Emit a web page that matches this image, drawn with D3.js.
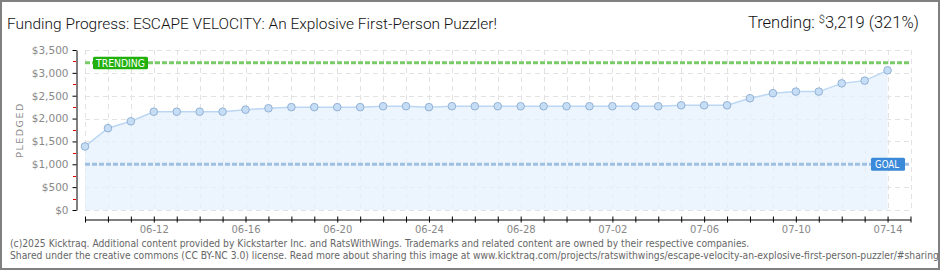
<!DOCTYPE html>
<html lang="en">
  <head>
    <meta charset="UTF-8" />
    <title>Funding Progress</title>
    <style>
      body { margin: 0; background: #fff; }
      svg { display: block; }
      .yaxis text, .xaxis text { font-family: "DejaVu Sans", sans-serif; fill: #888; }
    </style>
  </head>

  <body>
    <script src="https://cdn.jsdelivr.net/npm/d3@7"></script>

    <script>
    // data
    var days = ["06-09","06-10","06-11","06-12","06-13","06-14","06-15","06-16","06-17","06-18",
                "06-19","06-20","06-21","06-22","06-23","06-24","06-25","06-26","06-27","06-28",
                "06-29","06-30","07-01","07-02","07-03","07-04","07-05","07-06","07-07","07-08",
                "07-09","07-10","07-11","07-12","07-13","07-14"];
    var pledged = [1390,1790,1940,2150,2150,2150,2150,2195,2225,2250,
                   2250,2250,2250,2270,2270,2250,2270,2270,2270,2270,
                   2270,2270,2270,2270,2270,2270,2290,2290,2290,2445,
                   2555,2590,2590,2770,2830,3055];
    var goal = 1000;
    var trending = 3219;
    var yTicks = [0,500,1000,1500,2000,2500,3000,3500];
    var labelDays = ["06-12","06-16","06-20","06-24","06-28","07-02","07-06","07-10","07-14"];

    var width = 940;
    var height = 270;

    var parseDay = d3.timeParse("%Y-%m-%d");
    var fmtDay = d3.timeFormat("%m-%d");
    var data = days.map(function(d, i) {
      return { date: parseDay("2025-" + d), value: pledged[i] };
    });

    var svg = d3.select("body")
                .append("svg")
                .attr("width", width)
                .attr("height", height);

    svg.append("rect")
       .attr("x", 1).attr("y", 1)
       .attr("width", width - 2).attr("height", height - 2)
       .attr("fill", "#fff")
       .attr("stroke", "#808080")
       .attr("stroke-width", 2);

    var xScale = d3.scaleTime()
              .domain([data[0].date, d3.timeDay.offset(data[data.length - 1].date, 1)])
              .range([85, 910.5]);

    var yScale = d3.scaleLinear()
              .domain([0, 3500])
              .range([210, 50]);

    // grid
    var grid = svg.append("g").attr("class", "grid")
                  .attr("stroke", "#e2e2e2")
                  .attr("stroke-dasharray", "5,4");
    grid.selectAll(".vline")
        .data(xScale.ticks(d3.timeDay.every(1)))
        .enter().append("line")
        .attr("x1", function(d) { return Math.round(xScale(d)) + 0.5; })
        .attr("x2", function(d) { return Math.round(xScale(d)) + 0.5; })
        .attr("y1", 50).attr("y2", 210);
    grid.selectAll(".hline")
        .data(yTicks)
        .enter().append("line")
        .attr("x1", 85).attr("x2", 910)
        .attr("y1", function(d) { return Math.round(yScale(d)) + 0.5; })
        .attr("y2", function(d) { return Math.round(yScale(d)) + 0.5; });

    // area + line
    var area = d3.area()
      .x(function(d) { return xScale(d.date); })
      .y0(yScale(0))
      .y1(function(d) { return yScale(d.value); });
    svg.append("path")
       .datum(data)
       .attr("d", area)
       .attr("fill", "#e6f0fc")
       .attr("fill-opacity", 0.75);

    var line = d3.line()
      .x(function(d) { return xScale(d.date); })
      .y(function(d) { return yScale(d.value); });
    svg.append("path")
       .datum(data)
       .attr("d", line)
       .attr("fill", "none")
       .attr("stroke", "#bcd7f3")
       .attr("stroke-width", 1.5);

    // trending and goal lines
    svg.append("line")
       .attr("x1", 85).attr("x2", 910)
       .attr("y1", yScale(trending)).attr("y2", yScale(trending))
       .attr("stroke", "#79cb68")
       .attr("stroke-width", 3)
       .attr("stroke-dasharray", "5,2");
    svg.append("line")
       .attr("x1", 85).attr("x2", 910)
       .attr("y1", yScale(goal)).attr("y2", yScale(goal))
       .attr("stroke", "#9fbfe3")
       .attr("stroke-width", 3)
       .attr("stroke-dasharray", "5,2");

    // points
    svg.selectAll("circle.pt")
       .data(data)
       .enter().append("circle")
       .attr("class", "pt")
       .attr("r", 3.8)
       .attr("cx", function(d) { return xScale(d.date); })
       .attr("cy", function(d) { return yScale(d.value); })
       .attr("fill", "#c6ddf6")
       .attr("stroke", "#92b1d4")
       .attr("stroke-width", 1);

    // badges
    var tb = svg.append("g").attr("transform", "translate(93," + (yScale(trending) - 6) + ")");
    tb.append("rect").attr("width", 55).attr("height", 12.5).attr("rx", 1.5).attr("fill", "#22b00c");
    tb.append("text").attr("x", 27.5).attr("y", 10)
      .attr("text-anchor", "middle")
      .attr("font-family", "DejaVu Sans, sans-serif").attr("font-size", 10)
      .attr("textLength", 49).attr("lengthAdjust", "spacingAndGlyphs")
      .attr("fill", "#fff").text("TRENDING");

    var gb = svg.append("g").attr("transform", "translate(871," + (yScale(goal) - 6.5) + ")");
    gb.append("rect").attr("width", 34).attr("height", 13).attr("rx", 1.5).attr("fill", "#3b8ad9");
    gb.append("text").attr("x", 16).attr("y", 10.5)
      .attr("text-anchor", "middle")
      .attr("font-family", "DejaVu Sans, sans-serif").attr("font-size", 10)
      .attr("textLength", 24).attr("lengthAdjust", "spacingAndGlyphs")
      .attr("fill", "#fff").text("GOAL");

    // y axis
    var yAxis = d3.axisLeft(yScale)
                  .tickValues(yTicks)
                  .tickSize(4)
                  .tickSizeOuter(0)
                  .tickPadding(4)
                  .tickFormat(function(d) { return "$" + d3.format(",")(d); });
    var ya = svg.append("g")
       .attr("class", "yaxis")
       .attr("transform", "translate(76.5,0)")
       .call(yAxis);
    ya.selectAll("text").attr("font-size", 10.5);
    ya.select(".domain").attr("stroke", "#000");

    svg.selectAll(".minor")
       .data(d3.range(250, 3500, 500))
       .enter().append("line")
       .attr("x1", 73).attr("x2", 76)
       .attr("y1", function(d) { return Math.round(yScale(d)) + 0.5; })
       .attr("y2", function(d) { return Math.round(yScale(d)) + 0.5; })
       .attr("stroke", "#e00000");

    svg.append("text")
       .attr("transform", "translate(23,130) rotate(-90)")
       .attr("text-anchor", "middle")
       .attr("font-family", "DejaVu Sans, sans-serif")
       .attr("font-size", 9.5)
       .attr("letter-spacing", 1.5)
       .attr("fill", "#888")
       .text("PLEDGED");

    // x axis
    var xAxis = d3.axisBottom(xScale)
                  .ticks(d3.timeDay.every(1))
                  .tickSize(3)
                  .tickSizeOuter(0)
                  .tickPadding(3)
                  .tickFormat(function(d) {
                    var s = fmtDay(d);
                    return labelDays.indexOf(s) >= 0 ? s : "";
                  });
    var xa = svg.append("g")
       .attr("class", "xaxis")
       .attr("transform", "translate(0,219.5)")
       .call(xAxis);
    xa.selectAll(".tick line").attr("y1", -3);
    xa.selectAll("text").attr("font-size", 10);

    // title
    svg.append("text")
       .attr("x", 7).attr("y", 29)
       .attr("font-family", "Roboto, sans-serif")
       .attr("font-weight", 300)
       .attr("font-size", 15.5)
       .attr("fill", "#111")
       .attr("textLength", 490)
       .attr("lengthAdjust", "spacingAndGlyphs")
       .text("Funding Progress: ESCAPE VELOCITY: An Explosive First-Person Puzzler!");

    var tr = svg.append("text")
       .attr("x", 919).attr("y", 28)
       .attr("text-anchor", "end")
       .attr("font-family", "Roboto, sans-serif")
       .attr("font-weight", 300)
       .attr("font-size", 16.5)
       .attr("fill", "#111");
    tr.append("tspan").text("Trending: ");
    tr.append("tspan").attr("font-size", 11).attr("dy", -5).text("$");
    tr.append("tspan").attr("dy", 5).text(d3.format(",")(trending) + " (" + Math.floor(trending / goal * 100) + "%)");

    // footer
    var foot = svg.append("g")
       .attr("font-family", "DejaVu Sans, sans-serif")
       .attr("font-size", 10)
       .attr("fill", "#666");
    var f1 = foot.append("text").attr("x", 0).attr("y", 247)
       .text("(c)2025 Kicktraq. Additional content provided by Kickstarter Inc. and RatsWithWings. Trademarks and related content are owned by their respective companies.");
    foot.append("text").attr("x", 0).attr("y", 259)
       .text("Shared under the creative commons (CC BY-NC 3.0) license. Read more about sharing this image at www.kicktraq.com/projects/ratswithwings/escape-velocity-an-explosive-first-person-puzzler/#sharing");
    var sx = 740 / f1.node().getComputedTextLength();
    foot.attr("transform", "translate(10,0) scale(" + sx + ",1)");

    // redraw the frame on top so the clipped footer stays inside
    svg.append("rect")
       .attr("x", 1).attr("y", 1)
       .attr("width", width - 2).attr("height", height - 2)
       .attr("fill", "none")
       .attr("stroke", "#808080")
       .attr("stroke-width", 2);
    </script>
  </body>
</html>
